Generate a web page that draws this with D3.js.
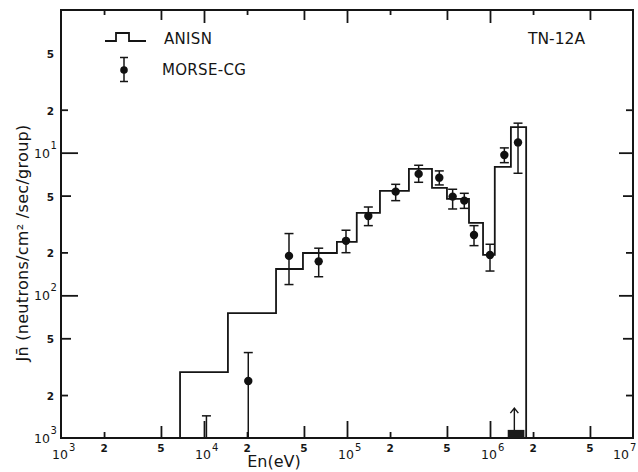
<!DOCTYPE html>
<html>
<head>
<meta charset="utf-8">
<script src="https://cdn.jsdelivr.net/npm/d3@7"></script>
<style>
  body { margin: 0; background: #fff; }
  svg { display: block; }
  text { font-family: "DejaVu Sans", sans-serif; fill: #151515; }
</style>
</head>
<body>
<svg id="chart" width="638" height="472"></svg>
<script>
// ANISN group structure: lower / upper energy bound (eV) and group current
const groupLow  = [6.8e3, 1.47e4, 3.19e4, 4.92e4, 8.5e4, 1.17e5, 1.70e5, 2.71e5, 3.93e5, 5.0e5, 7.13e5, 8.94e5, 1.08e6, 1.40e6];
const groupHigh = [1.47e4, 3.19e4, 4.92e4, 8.5e4, 1.17e5, 1.70e5, 2.71e5, 3.93e5, 5.0e5, 7.13e5, 8.94e5, 1.08e6, 1.40e6, 1.79e6];
const anisn     = [2.9e-3, 7.5e-3, 1.53e-2, 1.98e-2, 2.37e-2, 3.78e-2, 5.39e-2, 7.69e-2, 5.66e-2, 4.74e-2, 3.22e-2, 1.92e-2, 7.94e-2, 0.151];

// MORSE-CG estimates with their error bounds
const morseE  = [1.04e4, 2.04e4, 3.93e4, 6.34e4, 9.84e4, 1.41e5, 2.19e5, 3.17e5, 4.42e5, 5.48e5, 6.61e5, 7.73e5, 1.0e6, 1.26e6, 1.57e6];
const morse   = [8e-4, 2.51e-3, 1.89e-2, 1.73e-2, 2.41e-2, 3.60e-2, 5.33e-2, 7.1e-2, 6.68e-2, 4.92e-2, 4.61e-2, 2.65e-2, 1.92e-2, 9.64e-2, 0.118];
const morseHi = [1.43e-3, 3.97e-3, 2.71e-2, 2.14e-2, 2.86e-2, 4.16e-2, 6.0e-2, 8.16e-2, 7.45e-2, 5.54e-2, 5.19e-2, 3.08e-2, 2.28e-2, 0.108, 0.161];
const morseLo = [4e-4, 5e-4, 1.19e-2, 1.35e-2, 1.99e-2, 3.08e-2, 4.61e-2, 6.2e-2, 5.94e-2, 4.03e-2, 4.07e-2, 2.23e-2, 1.48e-2, 8.51e-2, 7.17e-2];

// Source band marker near the axis and its arrow
const bandE = [1.33e6, 1.74e6];
const bandTop = 1.14e-3;
const arrowE = 1.48e6;
const arrowTop = 1.62e-3;

// Axis ticks and labels ([base, exponent] pairs)
const xTicks = [1e3, 2e3, 5e3, 1e4, 2e4, 5e4, 1e5, 2e5, 5e5, 1e6, 2e6, 5e6, 1e7];
const xTickLabels = [["10","3"],["2"],["5"],["10","4"],["2"],["5"],["10","5"],["2"],["5"],["10","6"],["2"],["5"],["10","7"]];
const yTicks = [1e-3, 2e-3, 5e-3, 1e-2, 2e-2, 5e-2, 1e-1, 2e-1, 5e-1];
const yTickLabels = [["10","3"],["2"],["5"],["10","2"],["2"],["5"],["10","1"],["2"],["5"]];

const svg = d3.select("#chart");
const x = d3.scaleLog().domain([1e3, 1e7]).range([61, 633]);
const y = d3.scaleLog().domain([1e-3, 1]).range([438, 10]);
const [x0, x1] = x.range();
const [yb, yt] = y.range();

const mant = v => Math.round(v / Math.pow(10, Math.floor(Math.log10(v) + 1e-9)));
const lenFn = (maj, mid, min) => v => { const m = mant(v); return m === 1 ? maj : (m === 5 ? mid : min); };

const inner = arr => arr.slice(1, -1);

function styleAxis(g, lf, sign, attr) {
  g.select(".domain").remove();
  g.selectAll(".tick line")
    .attr("stroke", "#151515").attr("stroke-width", 1.8)
    .attr(attr, d => sign * lf(d));
}

// bottom / top / left / right axes with inward ticks
svg.append("g").attr("transform", `translate(0,${yb})`)
  .call(d3.axisBottom(x).tickValues(inner(xTicks)).tickFormat(""))
  .call(g => styleAxis(g, lenFn(17, 12, 6), -1, "y2"));
svg.append("g").attr("transform", `translate(0,${yt})`)
  .call(d3.axisTop(x).tickValues(inner(xTicks)).tickFormat(""))
  .call(g => styleAxis(g, lenFn(13, 10, 5), 1, "y2"));
svg.append("g").attr("transform", `translate(${x0},0)`)
  .call(d3.axisLeft(y).tickValues(inner(yTicks)).tickFormat(""))
  .call(g => styleAxis(g, lenFn(17, 10, 7), 1, "x2"));
svg.append("g").attr("transform", `translate(${x1},0)`)
  .call(d3.axisRight(y).tickValues(inner(yTicks)).tickFormat(""))
  .call(g => styleAxis(g, lenFn(14, 10, 7), -1, "x2"));

// frame
svg.append("rect")
  .attr("x", x0).attr("y", yt).attr("width", x1 - x0).attr("height", yb - yt)
  .attr("fill", "none").attr("stroke", "#151515").attr("stroke-width", 2);

// x tick labels (the last one is pulled in so it stays inside the page)
xTicks.forEach((v, i) => {
  const lab = xTickLabels[i];
  const px = x(v);
  if (lab.length === 1) {
    svg.append("text").attr("x", px).attr("y", yb + 14)
      .attr("text-anchor", "middle").attr("font-size", 10.5).attr("font-weight", "bold")
      .text(lab[0]);
  } else {
    const last = i === xTicks.length - 1;
    const t = svg.append("text").attr("x", last ? 613 : px - 9).attr("y", yb + 21).attr("font-size", 12.5);
    t.append("tspan").text(lab[0]);
    t.append("tspan").attr("dy", -8).attr("dx", 1).attr("font-size", 10).text(lab[1]);
  }
});

// y tick labels
yTicks.forEach((v, i) => {
  const lab = yTickLabels[i];
  const py = y(v);
  if (lab.length === 1) {
    svg.append("text").attr("x", 54).attr("y", py + 5)
      .attr("text-anchor", "end").attr("font-size", 10.5).attr("font-weight", "bold")
      .text(lab[0]);
  } else {
    svg.append("text").attr("x", 50).attr("y", py + 5)
      .attr("text-anchor", "end").attr("font-size", 12.5).text(lab[0]);
    svg.append("text").attr("x", 50.5).attr("y", py - 4)
      .attr("font-size", 10).text(lab[1]);
  }
});

// axis titles
svg.append("text").attr("x", 274).attr("y", 467)
  .attr("text-anchor", "middle").attr("font-size", 16).text("En(eV)");
svg.append("text")
  .attr("transform", `translate(28,${243}) rotate(-90)`)
  .attr("text-anchor", "middle").attr("font-size", 16).attr("letter-spacing", 0.3)
  .text("Jn\u0304 (neutrons/cm\u00B2 /sec/group)");

// ANISN histogram
const steps = [[groupLow[0], y.domain()[0]]];
anisn.forEach((v, i) => { steps.push([groupLow[i], v]); steps.push([groupHigh[i], v]); });
steps.push([groupHigh[groupHigh.length - 1], y.domain()[0]]);
svg.append("path")
  .attr("d", d3.line().x(d => x(d[0])).y(d => y(d[1]))(steps))
  .attr("fill", "none").attr("stroke", "#151515").attr("stroke-width", 1.8)
  .attr("stroke-linejoin", "miter");

// MORSE-CG points, clipped to the plot area
svg.append("clipPath").attr("id", "plot-clip")
  .append("rect").attr("x", x0).attr("y", yt).attr("width", x1 - x0).attr("height", yb - yt);
const pts = svg.append("g").attr("clip-path", "url(#plot-clip)");
const cap = 4.5;
morseE.forEach((e, i) => {
  const px = x(e);
  const g = pts.append("g").attr("stroke", "#151515").attr("stroke-width", 1.5);
  g.append("line").attr("x1", px).attr("x2", px).attr("y1", y(morseHi[i])).attr("y2", y(morseLo[i]));
  g.append("line").attr("x1", px - cap).attr("x2", px + cap).attr("y1", y(morseHi[i])).attr("y2", y(morseHi[i]));
  g.append("line").attr("x1", px - cap).attr("x2", px + cap).attr("y1", y(morseLo[i])).attr("y2", y(morseLo[i]));
  pts.append("circle").attr("cx", px).attr("cy", y(morse[i])).attr("r", 4.2).attr("fill", "#111");
});

// source band and arrow
svg.append("rect")
  .attr("x", x(bandE[0])).attr("y", y(bandTop))
  .attr("width", x(bandE[1]) - x(bandE[0])).attr("height", yb - y(bandTop))
  .attr("fill", "#1a1a1a");
const ax = x(arrowE), ay = y(arrowTop);
svg.append("path")
  .attr("d", `M${ax},${y(bandTop)}V${ay}M${ax - 4},${ay + 5}L${ax},${ay}L${ax + 4},${ay + 5}`)
  .attr("fill", "none").attr("stroke", "#151515").attr("stroke-width", 1.4);

// legend
const lg = svg.append("g");
lg.append("path")
  .attr("d", "M105,41H116V33H129V41H146")
  .attr("fill", "none").attr("stroke", "#151515").attr("stroke-width", 1.8);
lg.append("text").attr("x", 164).attr("y", 44).attr("font-size", 15).attr("letter-spacing", 0.3).text("ANISN");
const lx = 124;
const lgE = lg.append("g").attr("stroke", "#151515").attr("stroke-width", 1.5);
lgE.append("line").attr("x1", lx).attr("x2", lx).attr("y1", 57.5).attr("y2", 81.5);
lgE.append("line").attr("x1", lx - 4).attr("x2", lx + 4).attr("y1", 57.5).attr("y2", 57.5);
lgE.append("line").attr("x1", lx - 4).attr("x2", lx + 4).attr("y1", 81.5).attr("y2", 81.5);
lg.append("circle").attr("cx", lx).attr("cy", 70).attr("r", 3.8).attr("fill", "#111");
lg.append("text").attr("x", 162).attr("y", 75).attr("font-size", 15).attr("letter-spacing", 0.3).text("MORSE-CG");

// case label
svg.append("text").attr("x", 528).attr("y", 44).attr("font-size", 15.5).text("TN-12A");
</script>
</body>
</html>
